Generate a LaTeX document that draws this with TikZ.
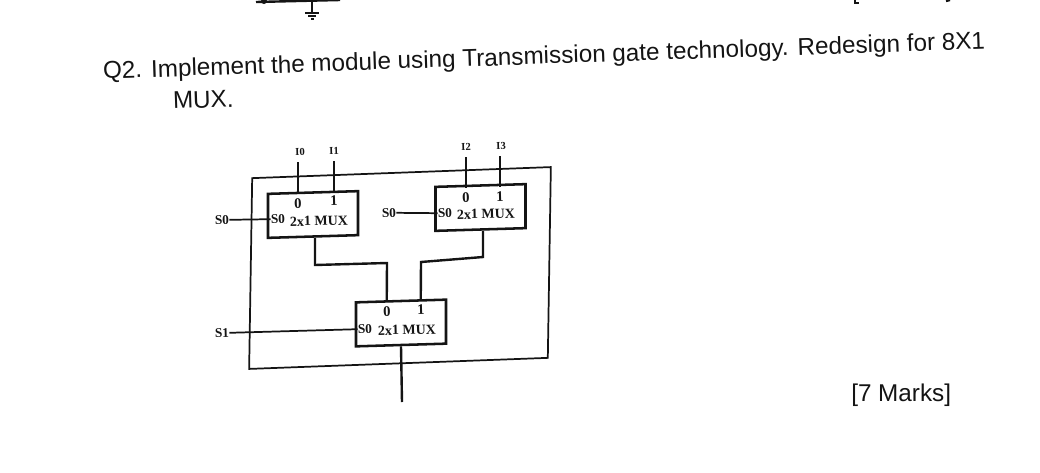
\documentclass[tikz,border=0pt]{standalone}
\usepackage{fontspec}
\setmainfont{Liberation Sans}
\newfontfamily\muxfont{Liberation Serif}
\usepackage{xcolor}
\usetikzlibrary{positioning}
\definecolor{ink}{gray}{0.08}
\tikzset{
  question/.style={anchor=base west, inner sep=0pt, rotate=1.95, text=ink, font=\fontsize{18.2}{20}\selectfont},
  muxbox/.style={draw=ink, line width=1.9pt, yslant=0.03, minimum width=67.5pt, minimum height=33pt, inner sep=0pt},
  frame/.style={draw=ink, line width=1.3pt, yslant=0.037, xslant=0.016, minimum width=224pt, minimum height=143pt, inner sep=0pt},
  wire/.style={draw=ink, line width=1.8pt},
  selwire/.style={draw=ink, line width=1.3pt},
  muxtext/.style={inner sep=0pt, rotate=1.5, text=ink, font=\muxfont\bfseries\fontsize{10.5}{12}\selectfont},
  sellabel/.style={inner sep=0pt, rotate=1.5, text=ink, font=\muxfont\bfseries\fontsize{10}{11}\selectfont},
  portlabel/.style={sellabel, outer sep=4pt, font=\muxfont\bfseries\fontsize{11}{12}\selectfont},
  pinlabel/.style={inner sep=0pt, outer sep=5pt, rotate=1.5, text=ink, font=\muxfont\bfseries\fontsize{8}{9}\selectfont},
}

\begin{document}
\begin{tikzpicture}[x=0.75pt,y=-0.75pt]

  \useasboundingbox (0,0) rectangle (1040,472);
  \clip (0,0) rectangle (1040,472);

  % leftovers at the top edge
  \draw[wire] (256,2) -- (340,0);
  \fill[ink] (264,1) circle (3);
  \draw[wire] (312,1) -- (312,13);
  \draw[wire] (305,13) -- (319,13);
  \draw[wire] (308,16) -- (316,16);
  \draw[wire] (311,19) -- (314,19);
  \draw[wire] (855,0) -- (855,3) -- (859,3);
  \draw[wire] (946,1) -- (950,0);

  % question
  \node[question] (qfirst) at (103,79) {Q2. Implement the module using Transmission gate technology. Redesign for 8X1};
  \node[question] (qsecond) at (173,109) {MUX.};
  \node[question, rotate=-1.95] (marks) at (851,401) {[7 Marks]};

  % outer frame
  \node[frame] (outer) at (400,268) {};

  % mux boxes
  \node[muxbox] (muxa) at (313,214.5) {};
  \node[muxbox] (muxb) at (480.5,207.5) {};
  \node[muxbox] (muxc) at (401,323) {};

  % texts of first mux
  \node[portlabel] (muxazero) at (298,204) {0};
  \node[portlabel] (muxaone) at (334,201) {1};
  \node[sellabel] (muxasel) at (278,219) {S0};
  \node[muxtext] (muxaname) at (319,221) {2x1 MUX};

  % texts of second mux
  \node[portlabel] (muxbzero) at (466,198) {0};
  \node[portlabel] (muxbone) at (500,197) {1};
  \node[sellabel] (muxbsel) at (445,213) {S0};
  \node[muxtext] (muxbname) at (486,214) {2x1 MUX};

  % texts of third mux
  \node[portlabel] (muxczero) at (387,312) {0};
  \node[portlabel] (muxcone) at (421,310) {1};
  \node[sellabel] (muxcsel) at (365,329) {S0};
  \node[muxtext] (muxcname) at (407,330) {2x1 MUX};

  % outside labels
  \node[pinlabel] (inzero) at (300,152) {I0};
  \node[pinlabel] (inone) at (334,151) {I1};
  \node[pinlabel] (intwo) at (466,147) {I2};
  \node[pinlabel] (inthree) at (501,146) {I3};
  \node[sellabel] (selA) at (222,220) {S0};
  \node[sellabel] (selB) at (389,213) {S0};
  \node[sellabel] (selC) at (222,333) {S1};

  % free end and bends
  \coordinate (outend) at (402,402);
  \coordinate (bendaone) at (315,265);
  \coordinate (bendatwo) at (387,263);
  \coordinate (bendbone) at (483,257);
  \coordinate (bendbtwo) at (421,262);

  % inputs
  \draw[wire] (muxazero.north |- inzero.south) -- (muxazero.north);
  \draw[wire] (muxaone.north |- inone.south) -- (muxaone.north);
  \draw[wire] (muxbzero.north |- intwo.south) -- (muxbzero.north);
  \draw[wire] (muxbone.north |- inthree.south) -- (muxbone.north);

  % select lines
  \draw[selwire] (selA.east) -- (muxasel.west);
  \draw[selwire] (selB.east) -- (muxbsel.west);
  \draw[selwire] (selC.east) -- (muxcsel.west);

  % outputs
  \draw[wire] (bendaone |- muxa.south) -- (bendaone) -- (bendatwo) -- (muxczero.north);
  \draw[wire] (bendbone |- muxb.south) -- (bendbone) -- (bendbtwo) -- (muxcone.north);
  \draw[wire] (muxc.south) -- (outend);

\end{tikzpicture}
\end{document}
